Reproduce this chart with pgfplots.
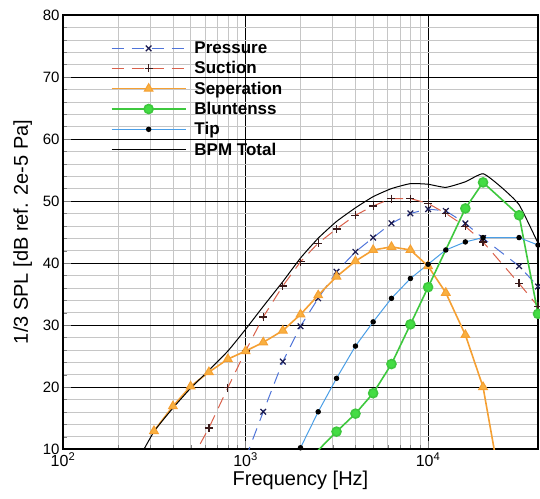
\documentclass[border=0pt]{standalone}
\usepackage{pgfplots}
\pgfplotsset{compat=1.18}
\usepackage{fontspec}
\setmainfont{Liberation Sans}
\definecolor{presC}{HTML}{4F74D9}
\definecolor{presM}{HTML}{1A1A50}
\definecolor{sucC}{HTML}{D9604A}
\definecolor{sucM}{HTML}{3A1A1A}
\definecolor{sepC}{HTML}{F5A033}
\definecolor{sepF}{HTML}{F9B040}
\definecolor{bluC}{HTML}{3EC83E}
\definecolor{bluF}{HTML}{44DD44}
\definecolor{tipC}{HTML}{4A9EE6}
\pgfplotsset{
  legend image code/.code={\draw[mark repeat=2,mark phase=2,#1] plot coordinates {(0pt,0pt) (37pt,0pt) (74pt,0pt)};}
}
\begin{document}
\begin{tikzpicture}[x=1pt,y=1pt]
\path[use as bounding box] (0,0) rectangle (540,498);
\begin{axis}[
  at={(63pt,49pt)}, anchor=south west,
  scale only axis, width=475pt, height=434pt,
  xmode=log, xmin=100, xmax=40000, ymin=10, ymax=80,
  xtick={100,1000,10000},
  xticklabels={10\textsuperscript{2},10\textsuperscript{3},10\textsuperscript{4}},
  ytick={10,20,30,40,50,60,70,80},
  minor y tick num=4,
  grid=both,
  major grid style={black, line width=0.6pt},
  minor grid style={gray!45, line width=0.5pt},
  tick align=inside, tick pos=left,
  major tick length=8pt, minor tick length=4pt,
  axis line style={line width=1.3pt},
  /pgf/number format/assume math mode=true,
  yticklabel style={font=\fontsize{15}{16}\selectfont},
  xticklabel style={font=\fontsize{16}{17}\selectfont},
  label style={font=\fontsize{20}{22}\selectfont},
  xlabel={Frequency [Hz]},
  ylabel={1/3 SPL [dB ref. 2e-5 Pa]},
  ylabel style={yshift=4pt},
  xlabel style={yshift=3pt},
  legend style={at={(0.094,0.948)}, anchor=north west, draw=none, fill=none,
    font=\fontsize{17}{18}\selectfont\bfseries, row sep=2.5pt, column sep=6pt},
  legend cell align=left,
]
\addplot[presC, line width=1pt, dash pattern=on 12pt off 8pt, mark=x, mark size=4pt, mark options={solid, presM, line width=1.2pt}]
coordinates {(1000,8.5) (1250,16.0) (1600,24.1) (2000,29.8) (2500,34.3) (3150,38.6) (4000,41.8) (5000,44.1) (6300,46.4) (8000,48.0) (10000,48.7) (12500,48.4) (16000,46.4) (20000,44.0) (31500,39.5) (40000,36.2)};
\addlegendentry{Pressure}
\addplot[sucC, line width=1pt, dash pattern=on 12pt off 8pt, mark=+, mark size=4pt, mark options={solid, sucM, line width=1.2pt}]
coordinates {(500,8.0) (630,13.4) (800,19.9) (1000,25.8) (1250,31.3) (1600,36.3) (2000,40.2) (2500,43.2) (3150,45.5) (4000,47.7) (5000,49.2) (6300,50.4) (8000,50.4) (10000,49.6) (12500,48.0) (16000,45.9) (20000,43.4) (31500,36.7) (40000,33.0)};
\addlegendentry{Suction}
\addplot[sepC, line width=1.6pt, mark=triangle*, mark size=5pt, mark options={fill=sepF, draw=sepC, line width=1pt}]
coordinates {(315,12.9) (400,16.9) (500,20.1) (630,22.4) (800,24.5) (1000,25.8) (1250,27.2) (1600,29.1) (2000,31.7) (2500,34.8) (3150,37.8) (4000,40.3) (5000,42.1) (6300,42.6) (8000,42.1) (10000,39.5) (12500,35.2) (16000,28.4) (20000,20.0) (25000,4.0)};
\addlegendentry{Seperation}
\addplot[bluC, line width=1.6pt, mark=*, mark size=4.5pt, mark options={fill=bluF, draw=bluC}]
coordinates {(2500,9.8) (3150,12.8) (4000,15.7) (5000,19.0) (6300,23.7) (8000,30.1) (10000,36.1) (16000,48.8) (20000,53.0) (31500,47.7) (40000,31.8)};
\addlegendentry{Bluntenss}
\addplot[tipC, line width=1pt, mark=*, mark size=2.2pt, mark options={fill=black, draw=black}]
coordinates {(2000,10.2) (2500,16.0) (3150,21.4) (4000,26.6) (5000,30.5) (6300,34.3) (8000,37.5) (10000,39.8) (12500,42.1) (16000,43.4) (20000,44.1) (31500,44.1) (40000,42.9)};
\addlegendentry{Tip}
\addplot[black, line width=1pt, smooth, tension=0.3]
coordinates {(250,7.5) (315,12.8) (400,16.6) (500,19.8) (630,22.7) (800,25.8) (1000,29.3) (1250,33.0) (1600,37.0) (2000,40.8) (2500,44.0) (3150,46.7) (4000,48.9) (5000,50.7) (6300,52.0) (8000,52.8) (10000,52.7) (12500,52.2) (16000,53.1) (20000,54.4) (25000,52.3) (31500,49.4) (40000,43.2)};
\addlegendentry{BPM Total}
\end{axis}
\end{tikzpicture}
\end{document}
